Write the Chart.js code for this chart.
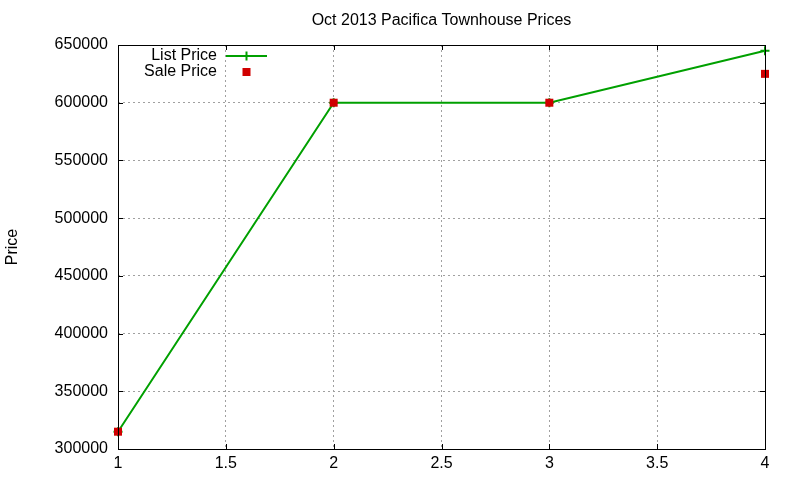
<!DOCTYPE html>
<html>
<head>
<meta charset="utf-8">
<script src="https://cdn.jsdelivr.net/npm/chart.js@4/dist/chart.umd.min.js"></script>
<style>
html,body{margin:0;padding:0;background:#fff;}
#wrap{width:800px;height:480px;position:relative;}
</style>
</head>
<body>
<div id="wrap"><canvas id="c" width="800" height="480"></canvas></div>
<script>
const xValues = [1, 2, 3, 4];
const listPrice = [315000, 600000, 600000, 645000];
const salePrice = [315000, 600000, 600000, 625000];
const seriesNames = ['List Price', 'Sale Price'];
const chartTitle = 'Oct 2013 Pacifica Townhouse Prices';
const yTitle = 'Price';

const FONT = 'Liberation Sans, Arial, sans-serif';
const FS = 16;
const GREEN = '#00a000';
const RED = '#d00000';

const toPts = (vals) => xValues.map((x, i) => ({x: x, y: vals[i]}));

const frame = {
  id: 'frame',
  afterDatasetsDraw(chart) {
    const {ctx, chartArea: a, scales: {x, y}} = chart;
    ctx.save();
    // title centred over plot area
    ctx.font = FS + 'px ' + FONT;
    ctx.fillStyle = '#000';
    ctx.textAlign = 'center';
    ctx.textBaseline = 'middle';
    ctx.fillText(chartTitle, (a.left + a.right) / 2, 21);

    ctx.strokeStyle = '#000';
    ctx.lineWidth = 1;
    ctx.beginPath();
    const t = 5;
    x.ticks.forEach(tk => {
      const px = Math.round(x.getPixelForValue(tk.value)) + 0.5;
      ctx.moveTo(px, a.bottom); ctx.lineTo(px, a.bottom - t);
      ctx.moveTo(px, a.top); ctx.lineTo(px, a.top + t);
    });
    y.ticks.forEach(tk => {
      const py = Math.round(y.getPixelForValue(tk.value)) + 0.5;
      ctx.moveTo(a.left, py); ctx.lineTo(a.left + t, py);
      ctx.moveTo(a.right, py); ctx.lineTo(a.right - t, py);
    });
    ctx.stroke();
    ctx.strokeRect(Math.round(a.left) + 0.5, Math.round(a.top) + 0.5, Math.round(a.right - a.left), Math.round(a.bottom - a.top));
    // legend (gnuplot style: right-aligned text, sample to the right)
    ctx.font = FS + 'px ' + FONT;
    ctx.fillStyle = '#000';
    ctx.textAlign = 'right';
    ctx.textBaseline = 'middle';
    const tx = 217, sx0 = 226, sx1 = 267;
    const y1 = 56, y2 = 72;
    ctx.fillText(seriesNames[0], tx, y1);
    ctx.fillText(seriesNames[1], tx, y2);
    ctx.strokeStyle = GREEN;
    ctx.lineWidth = 2;
    ctx.beginPath();
    ctx.moveTo(sx0, y1); ctx.lineTo(sx1, y1);
    const cx = (sx0 + sx1) / 2;
    ctx.moveTo(cx, y1 - 4.5); ctx.lineTo(cx, y1 + 4.5);
    ctx.stroke();
    ctx.fillStyle = RED;
    ctx.fillRect(cx - 4, y2 - 4, 8, 8);
    ctx.restore();
  }
};

new Chart(document.getElementById('c'), {
  type: 'scatter',
  data: {
    datasets: [
      {
        label: seriesNames[0],
        data: toPts(listPrice),
        showLine: true,
        borderColor: GREEN,
        backgroundColor: GREEN,
        borderWidth: 2,
        pointStyle: 'cross',
        pointRadius: 4.5,
        pointBorderWidth: 2,
        pointBorderColor: GREEN,
        order: 2
      },
      {
        label: seriesNames[1],
        data: toPts(salePrice),
        showLine: false,
        borderColor: RED,
        backgroundColor: RED,
        pointStyle: 'rect',
        pointRadius: 5.66,
        pointBorderWidth: 0,
        order: 1
      }
    ]
  },
  options: {
    responsive: false,
    animation: false,
    clip: false,
    devicePixelRatio: 1,
    layout: {padding: {left: 0, right: 35, top: 45, bottom: 0}},
    plugins: {
      legend: {display: false},
      tooltip: {enabled: false},
      title: {display: false}
    },
    scales: {
      x: {
        type: 'linear',
        min: 1, max: 4,
        ticks: {stepSize: 0.5, color: '#000', font: {family: FONT, size: FS}, padding: 5, maxRotation: 0,
                callback: v => String(v)},
        grid: {color: '#a0a0a0', lineWidth: 1, drawTicks: false, tickLength: 0},
        border: {display: false, dash: [2, 3]},
        afterFit: s => { s.height = 31; }
      },
      y: {
        type: 'linear',
        min: 300000, max: 650000,
        ticks: {stepSize: 50000, color: '#000', font: {family: FONT, size: FS}, padding: 10,
                callback: v => String(v)},
        grid: {color: '#a0a0a0', lineWidth: 1, drawTicks: false, tickLength: 0},
        border: {display: false, dash: [2, 3]},
        title: {display: true, text: yTitle, color: '#000', font: {family: FONT, size: FS}, padding: {top: 3, bottom: 0}},
        afterFit: s => { s.width = 118; }
      }
    }
  },
  plugins: [frame]
});
</script>
</body>
</html>
